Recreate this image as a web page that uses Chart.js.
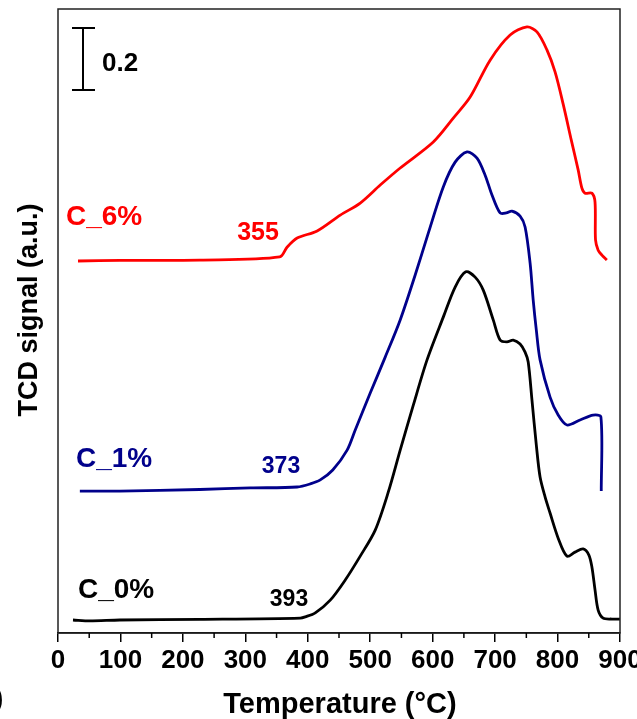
<!DOCTYPE html>
<html lang="en">
<head>
    <meta charset="UTF-8">
    <title>TCD signal</title>
    <style>
        body { margin: 0; background: #fff; }
        canvas { display: block; }
    </style>
</head>
<body>
    <canvas id="tpr" width="637" height="719"></canvas>

<script src="https://cdn.jsdelivr.net/npm/chart.js"></script>
<script>
    // temperatures (°C) and TCD signal (a.u.)
    const tempC0 = [24, 51, 99, 227, 388, 396, 412, 436, 460, 484, 508, 529, 548, 569, 591, 617, 636, 653, 668, 681, 697, 708, 719, 729, 740, 748, 753, 759, 766, 772, 780, 788, 801, 815, 828, 841, 850, 855, 860, 865, 873, 887, 900];
    const sigC0 = [0.042, 0.039, 0.042, 0.044, 0.048, 0.052, 0.065, 0.106, 0.171, 0.248, 0.332, 0.455, 0.590, 0.735, 0.881, 1.019, 1.116, 1.165, 1.148, 1.106, 1.010, 0.945, 0.939, 0.945, 0.932, 0.906, 0.874, 0.752, 0.606, 0.503, 0.439, 0.387, 0.306, 0.248, 0.261, 0.271, 0.252, 0.213, 0.139, 0.074, 0.048, 0.045, 0.045];

    const tempC1 = [35, 99, 227, 308, 383, 404, 420, 440, 463, 476, 500, 524, 548, 572, 593, 617, 636, 655, 671, 684, 695, 708, 718, 727, 740, 748, 756, 761, 766, 772, 788, 801, 815, 836, 857, 869.4, 870];
    const sigC1 = [0.458, 0.458, 0.463, 0.468, 0.471, 0.481, 0.494, 0.526, 0.590, 0.655, 0.774, 0.890, 1.010, 1.155, 1.290, 1.439, 1.519, 1.552, 1.532, 1.477, 1.413, 1.355, 1.355, 1.361, 1.345, 1.310, 1.194, 1.074, 0.977, 0.881, 0.761, 0.703, 0.671, 0.687, 0.703, 0.697, 0.458];

    const tempC6 = [32, 99, 227, 355, 367, 383, 415, 452, 484, 516, 548, 601, 633, 660, 692, 724, 751, 767, 783, 796, 809, 822, 833, 839, 844, 855, 860, 860.8, 865, 871, 879];
    const sigC6 = [1.200, 1.202, 1.203, 1.213, 1.245, 1.274, 1.297, 1.348, 1.387, 1.445, 1.500, 1.584, 1.661, 1.729, 1.848, 1.929, 1.955, 1.939, 1.881, 1.810, 1.706, 1.590, 1.494, 1.435, 1.419, 1.419, 1.390, 1.268, 1.235, 1.219, 1.203];

    const xTicks = [0, 100, 200, 300, 400, 500, 600, 700, 800, 900];

    const pts = (xs, ys) => xs.map((x, i) => ({ x: x, y: ys[i] }));

    // text, scale bar, frame and minor ticks
    const extras = {
        id: 'extras',
        afterDraw(chart) {
            const c = chart.ctx;
            const a = chart.chartArea;
            const x = chart.scales.x;
            c.save();

            c.strokeStyle = '#222';
            c.lineWidth = 1.5;
            c.strokeRect(a.left, a.top, a.right - a.left, a.bottom - a.top);

            c.strokeStyle = '#000';
            for (let v = 50; v < 900; v += 100) {
                const px = x.getPixelForValue(v);
                c.beginPath();
                c.moveTo(px, a.bottom);
                c.lineTo(px, a.bottom + 5);
                c.stroke();
            }

            // scale bar 0.2
            c.lineWidth = 2;
            c.beginPath();
            c.moveTo(83, 28); c.lineTo(83, 90);
            c.moveTo(72, 28); c.lineTo(95, 28);
            c.moveTo(72, 90); c.lineTo(95, 90);
            c.stroke();

            const txt = (s, px, py, size, color, align) => {
                c.font = 'bold ' + size + 'px "Liberation Sans", Arial, sans-serif';
                c.fillStyle = color;
                c.textAlign = align || 'left';
                c.textBaseline = 'alphabetic';
                c.fillText(s, px, py);
            };
            txt('0.2', 102, 71, 26, '#000');
            txt('C_6%', 66, 225, 28, '#ff0000');
            txt('C_1%', 76, 467, 28, '#00008b');
            txt('C_0%', 78, 598, 28, '#000');
            txt('355', 258, 240, 25, '#ff0000', 'center');
            txt('373', 281, 473, 23, '#00008b', 'center');
            txt('393', 289, 606, 23, '#000', 'center');
            txt('Temperature (°C)', 340, 713, 29, '#000', 'center');
            txt(')', -6, 707, 28, '#000');

            c.translate(37, 310);
            c.rotate(-Math.PI / 2);
            txt('TCD signal (a.u.)', 0, 0, 27, '#000', 'center');
            c.restore();
        }
    };

    new Chart(document.getElementById('tpr'), {
        type: 'line',
        data: {
            datasets: [
                { label: 'C_6%', data: pts(tempC6, sigC6), borderColor: '#ff0000' },
                { label: 'C_1%', data: pts(tempC1, sigC1), borderColor: '#00008b' },
                { label: 'C_0%', data: pts(tempC0, sigC0), borderColor: '#000000' }
            ]
        },
        options: {
            responsive: false,
            animation: false,
            layout: { padding: { left: 58, right: 17, top: 9, bottom: 0 } },
            elements: {
                point: { radius: 0 },
                line: { borderWidth: 2.8, tension: 0.3, fill: false }
            },
            plugins: { legend: { display: false }, tooltip: { enabled: false } },
            scales: {
                x: {
                    type: 'linear',
                    min: 0,
                    max: 900,
                    afterBuildTicks: s => { s.ticks = xTicks.map(v => ({ value: v })); },
                    afterFit: s => { s.height = 86; s.paddingLeft = 0; s.paddingRight = 0; },
                    grid: { drawOnChartArea: false, drawTicks: true, tickLength: 9, color: '#000', lineWidth: 1.5 },
                    border: { display: true, color: '#000', width: 1.5 },
                    ticks: {
                        autoSkip: false,
                        maxRotation: 0,
                        padding: 3,
                        color: '#000',
                        font: { family: '"Liberation Sans", Arial, sans-serif', size: 26, weight: 'bold' }
                    }
                },
                y: {
                    display: false,
                    min: 0,
                    max: 2.013
                }
            }
        },
        plugins: [extras]
    });
</script>
</body>
</html>
